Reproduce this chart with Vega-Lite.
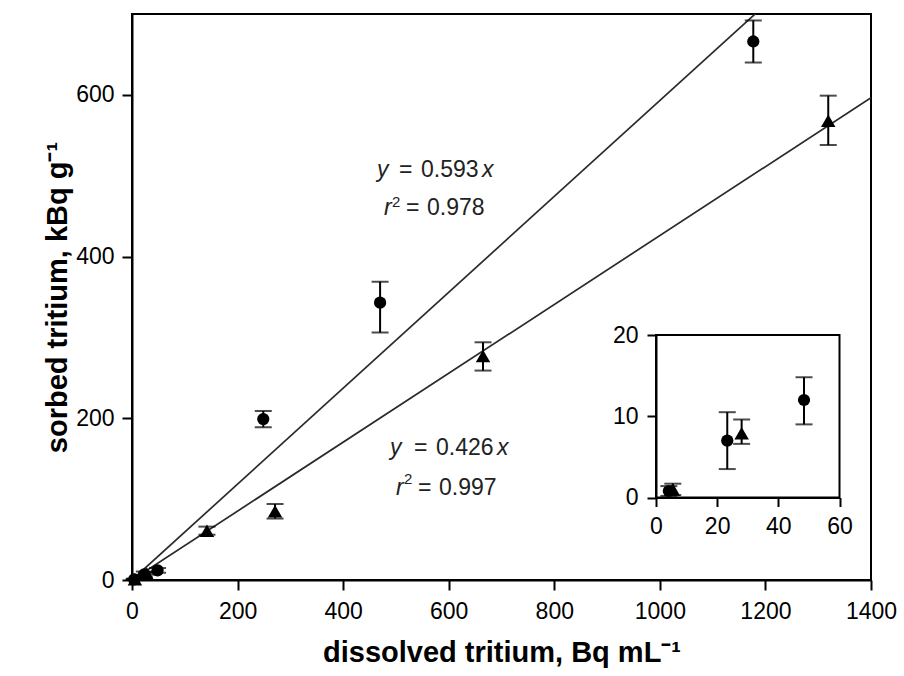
{
  "$schema": "https://vega.github.io/schema/vega-lite/v6.json",
  "width": 739,
  "height": 566,
  "autosize": {"type": "none"},
  "padding": {"left": 132, "top": 14, "right": 33, "bottom": 96},
  "background": "white",
  "config": {
    "view": {"stroke": "black", "strokeWidth": 2},
    "font": "Liberation Sans",
    "axis": {"grid": false, "domainColor": "black", "domainWidth": 2, "tickColor": "black", "tickWidth": 2, "labelColor": "black", "labelFont": "Liberation Sans", "titleFont": "Liberation Sans", "titleColor": "black", "labelFlush": false, "labelOverlap": false, "format": "d"}
  },
  "datasets": {
    "points": [
      {"series": "circle", "x": 4.2, "y": 0.8, "lo": 0.2, "hi": 1.4},
      {"series": "circle", "x": 23.3, "y": 7.0, "lo": 3.5, "hi": 10.5},
      {"series": "circle", "x": 48.4, "y": 12.0, "lo": 9.0, "hi": 14.8},
      {"series": "circle", "x": 248.7, "y": 199, "lo": 189, "hi": 209},
      {"series": "circle", "x": 470, "y": 343, "lo": 306, "hi": 369},
      {"series": "circle", "x": 1177, "y": 666, "lo": 640, "hi": 692},
      {"series": "triangle", "x": 5.5, "y": 1.0, "lo": 0.3, "hi": 1.7},
      {"series": "triangle", "x": 28.0, "y": 7.9, "lo": 6.6, "hi": 9.6},
      {"series": "triangle", "x": 142, "y": 61, "lo": 56, "hi": 66},
      {"series": "triangle", "x": 271, "y": 85, "lo": 76, "hi": 94},
      {"series": "triangle", "x": 665, "y": 277, "lo": 259, "hi": 294},
      {"series": "triangle", "x": 1319, "y": 568, "lo": 538, "hi": 599}
    ],
    "fits": [
      {"series": "circle", "x": 0, "y": 0},
      {"series": "circle", "x": 1400, "y": 830.2},
      {"series": "triangle", "x": 0, "y": 0},
      {"series": "triangle", "x": 1400, "y": 596.4}
    ]
  },
  "layer": [
    {
      "layer": [
        {
          "data": {"name": "fits"},
          "mark": {"type": "line", "clip": true, "color": "#2a2a2a", "strokeWidth": 1.7},
          "encoding": {
            "x": {"field": "x", "type": "quantitative", "scale": {"domain": [0, 1400], "nice": false},
              "axis": {"values": [0, 200, 400, 600, 800, 1000, 1200, 1400], "title": "dissolved tritium, Bq mL⁻¹", "tickSize": 10, "labelFontSize": 23, "labelPadding": 10, "titleFontSize": 29, "titleFontWeight": "bold", "titlePadding": 15}},
            "y": {"field": "y", "type": "quantitative", "scale": {"domain": [0, 700], "nice": false},
              "axis": {"values": [0, 200, 400, 600], "title": "sorbed tritium, kBq g⁻¹", "tickSize": 10, "labelFontSize": 23, "labelPadding": 8, "titleFontSize": 29, "titleFontWeight": "bold", "titlePadding": 3}},
            "detail": {"field": "series"}
          }
        },
        {
          "data": {"name": "points"},
          "mark": {"type": "rule", "color": "black", "strokeWidth": 2},
          "encoding": {
            "x": {"field": "x", "type": "quantitative", "title": "dissolved tritium, Bq mL⁻¹"},
            "y": {"field": "lo", "type": "quantitative", "title": "sorbed tritium, kBq g⁻¹"},
            "y2": {"field": "hi"}
          }
        },
        {
          "data": {"name": "points"},
          "mark": {"type": "tick", "orient": "horizontal", "size": 17, "thickness": 2, "color": "black"},
          "encoding": {
            "x": {"field": "x", "type": "quantitative", "title": "dissolved tritium, Bq mL⁻¹"},
            "y": {"field": "lo", "type": "quantitative", "title": "sorbed tritium, kBq g⁻¹"}
          }
        },
        {
          "data": {"name": "points"},
          "mark": {"type": "tick", "orient": "horizontal", "size": 17, "thickness": 2, "color": "black"},
          "encoding": {
            "x": {"field": "x", "type": "quantitative", "title": "dissolved tritium, Bq mL⁻¹"},
            "y": {"field": "hi", "type": "quantitative", "title": "sorbed tritium, kBq g⁻¹"}
          }
        },
        {
          "data": {"name": "points"},
          "mark": {"type": "point", "filled": true, "opacity": 1, "color": "black", "strokeWidth": 0},
          "encoding": {
            "x": {"field": "x", "type": "quantitative", "title": "dissolved tritium, Bq mL⁻¹"},
            "y": {"field": "y", "type": "quantitative", "title": "sorbed tritium, kBq g⁻¹"},
            "shape": {"field": "series", "type": "nominal", "scale": {"domain": ["circle", "triangle"], "range": ["circle", "triangle-up"]}, "legend": null},
            "size": {"field": "series", "type": "nominal", "scale": {"domain": ["circle", "triangle"], "range": [150, 210]}, "legend": null}
          }
        },
        {
          "data": {"values": [
            {"label": "y", "x": 464.1, "y": 498.4},
            {"label": "x", "x": 663.0, "y": 498.4},
            {"label": "r", "x": 477.4, "y": 451.4},
            {"label": "y", "x": 488.8, "y": 154.6},
            {"label": "x", "x": 691.5, "y": 154.6},
            {"label": "r", "x": 500.1, "y": 105.1}
          ]},
          "mark": {"type": "text", "align": "left", "baseline": "alphabetic", "fontSize": 23, "fontStyle": "italic", "color": "#222222"},
          "encoding": {
            "x": {"field": "x", "type": "quantitative", "title": "dissolved tritium, Bq mL⁻¹"},
            "y": {"field": "y", "type": "quantitative", "title": "sorbed tritium, kBq g⁻¹"},
            "text": {"field": "label"}
          }
        },
        {
          "data": {"values": [
            {"label": "=", "x": 505.8, "y": 498.4},
            {"label": "0.593", "x": 547.5, "y": 498.4},
            {"label": "=", "x": 519.1, "y": 451.4},
            {"label": "0.978", "x": 558.9, "y": 451.4},
            {"label": "=", "x": 534.2, "y": 154.6},
            {"label": "0.426", "x": 575.9, "y": 154.6},
            {"label": "=", "x": 541.8, "y": 105.1},
            {"label": "0.997", "x": 581.6, "y": 105.1}
          ]},
          "mark": {"type": "text", "align": "left", "baseline": "alphabetic", "fontSize": 23, "color": "#222222"},
          "encoding": {
            "x": {"field": "x", "type": "quantitative", "title": "dissolved tritium, Bq mL⁻¹"},
            "y": {"field": "y", "type": "quantitative", "title": "sorbed tritium, kBq g⁻¹"},
            "text": {"field": "label"}
          }
        },
        {
          "data": {"values": [
            {"label": "2", "x": 492.6, "y": 461.3},
            {"label": "2", "x": 515.3, "y": 118.7}
          ]},
          "mark": {"type": "text", "align": "left", "baseline": "alphabetic", "fontSize": 15, "color": "#222222"},
          "encoding": {
            "x": {"field": "x", "type": "quantitative", "title": "dissolved tritium, Bq mL⁻¹"},
            "y": {"field": "y", "type": "quantitative", "title": "sorbed tritium, kBq g⁻¹"},
            "text": {"field": "label"}
          }
        }
      ]
    },
    {
      "layer": [
        {
          "data": {"values": [{"x0": 0, "x1": 60, "y0": 0, "y1": 20}]},
          "mark": {"type": "rect", "fill": "white", "stroke": "black", "strokeWidth": 2},
          "encoding": {
            "x": {"field": "x0", "type": "quantitative", "scale": {"domain": [0, 60], "range": [524, 707.5], "nice": false},
              "axis": {"orient": "bottom", "offset": -82.5, "values": [0, 20, 40, 60], "title": null, "tickSize": 9, "labelFontSize": 23, "labelPadding": 9, "zindex": 1}},
            "x2": {"field": "x1"},
            "y": {"field": "y0", "type": "quantitative", "scale": {"domain": [0, 20], "range": [483.5, 321], "nice": false},
              "axis": {"orient": "left", "offset": -524, "values": [0, 10, 20], "title": null, "tickSize": 9, "labelFontSize": 23, "labelPadding": 9, "zindex": 1}},
            "y2": {"field": "y1"}
          }
        },
        {
          "data": {"name": "points"},
          "transform": [{"filter": "datum.x <= 60"}],
          "mark": {"type": "rule", "color": "black", "strokeWidth": 2},
          "encoding": {
            "x": {"field": "x", "type": "quantitative", "title": null},
            "y": {"field": "lo", "type": "quantitative", "title": null},
            "y2": {"field": "hi"}
          }
        },
        {
          "data": {"name": "points"},
          "transform": [{"filter": "datum.x <= 60"}],
          "mark": {"type": "tick", "orient": "horizontal", "size": 17, "thickness": 2, "color": "black"},
          "encoding": {
            "x": {"field": "x", "type": "quantitative", "title": null},
            "y": {"field": "lo", "type": "quantitative", "title": null}
          }
        },
        {
          "data": {"name": "points"},
          "transform": [{"filter": "datum.x <= 60"}],
          "mark": {"type": "tick", "orient": "horizontal", "size": 17, "thickness": 2, "color": "black"},
          "encoding": {
            "x": {"field": "x", "type": "quantitative", "title": null},
            "y": {"field": "hi", "type": "quantitative", "title": null}
          }
        },
        {
          "data": {"name": "points"},
          "transform": [{"filter": "datum.x <= 60"}],
          "mark": {"type": "point", "filled": true, "opacity": 1, "color": "black", "strokeWidth": 0},
          "encoding": {
            "x": {"field": "x", "type": "quantitative", "title": null},
            "y": {"field": "y", "type": "quantitative", "title": null},
            "shape": {"field": "series", "type": "nominal", "scale": {"domain": ["circle", "triangle"], "range": ["circle", "triangle-up"]}, "legend": null},
            "size": {"field": "series", "type": "nominal", "scale": {"domain": ["circle", "triangle"], "range": [150, 210]}, "legend": null}
          }
        }
      ]
    }
  ],
  "resolve": {"scale": {"x": "independent", "y": "independent", "shape": "shared", "size": "shared"}, "axis": {"x": "independent", "y": "independent"}}
}
